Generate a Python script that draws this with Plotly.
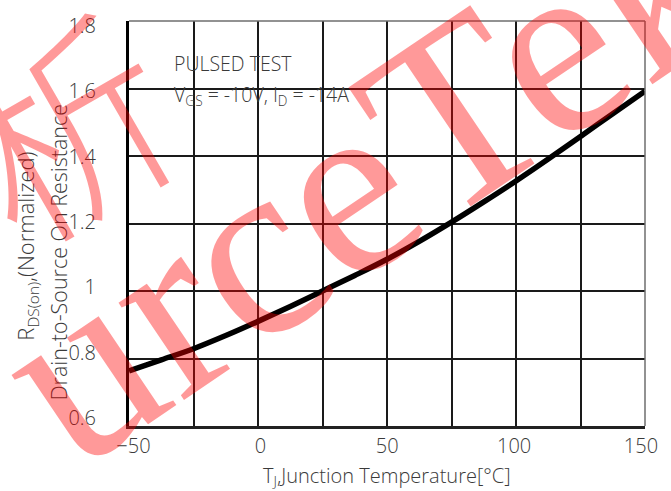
import plotly.graph_objects as go

# Data
temperature = [-50, -37.5, -25, -12.5, 0, 12.5, 25, 37.5, 50, 62.5, 75, 87.5, 100, 112.5, 125, 137.5, 150]
rds_norm = [0.763, 0.796, 0.829, 0.868, 0.910, 0.954, 1.000, 1.046, 1.094, 1.147, 1.204, 1.264, 1.326, 1.391, 1.458, 1.525, 1.592]
x_ticks = [-50, 0, 50, 100, 150]
y_ticks = [0.6, 0.8, 1.0, 1.2, 1.4, 1.6, 1.8]
y_ticktext = ["0.6", "0.8", "1", "1.2", "1.4", "1.6", "1.8"]

W, H = 671, 491
L, R, T, B = 129, 26, 15, 65
FONT = "Open Sans"
TXT = "#3a3a3a"
FW = 300

def f(size=19, color=TXT, **kw):
    return dict(family=FONT, size=size, color=color, weight=FW, **kw)

fig = go.Figure()
fig.add_trace(go.Scatter(
    x=temperature, y=rds_norm, mode="lines",
    line=dict(color="black", width=5.5, shape="spline", smoothing=1.0),
    hoverinfo="skip", showlegend=False,
))
# dummy trace for the label axes
fig.add_trace(go.Scatter(x=[None], y=[None], xaxis="x2", yaxis="y2",
                         mode="lines", showlegend=False, hoverinfo="skip"))

grid_col = "#1a1a1a"
fig.update_layout(
    width=W, height=H,
    margin=dict(l=L, r=R, t=T, b=B, pad=0),
    paper_bgcolor="white", plot_bgcolor="white",
    font=f(),
    xaxis=dict(range=[-50, 150], dtick=25, tick0=-50, showticklabels=False,
               showgrid=True, gridcolor=grid_col, gridwidth=1.5,
               zeroline=False, showline=True, linecolor="#222", linewidth=2.5,
               ticks=""),
    yaxis=dict(range=[0.6, 1.8], dtick=0.2, tick0=0.6, showticklabels=False,
               showgrid=True, gridcolor=grid_col, gridwidth=1.5,
               zeroline=False, showline=True, linecolor="black", linewidth=2.5,
               ticks=""),
    xaxis2=dict(overlaying="x", anchor="y", side="bottom",
                range=[-51.77, 151.58], tickvals=x_ticks,
                showgrid=False, zeroline=False, showline=False, ticks="",
                ticklabelstandoff=6, tickfont=f(20)),
    yaxis2=dict(overlaying="y", anchor="x", side="left",
                range=[0.5759, 1.8151], tickvals=y_ticks, ticktext=y_ticktext,
                showgrid=False, zeroline=False, showline=False, ticks="",
                ticklabelstandoff=32, tickfont=f(20)),
)

def px2paper(px, py):
    return (px - L) / (W - L - R), (H - B - py) / (H - T - B)

shapes = []
# gray frame top/right
shapes.append(dict(type="line", xref="paper", yref="paper", x0=0, x1=1, y0=1, y1=1,
                   line=dict(color="#6e6e6e", width=1.5), layer="above"))
shapes.append(dict(type="line", xref="paper", yref="paper", x0=1, x1=1, y0=0, y1=1,
                   line=dict(color="#6e6e6e", width=1.5), layer="above"))
# white box behind the test-condition text
bx0, by0 = px2paper(154, 117)
bx1, by1 = px2paper(432, 32)
shapes.append(dict(type="rect", xref="paper", yref="paper", x0=bx0, x1=bx1, y0=by0, y1=by1,
                   fillcolor="white", line=dict(width=0), layer="between"))
fig.update_layout(shapes=shapes)

ann = []
ax, ay = px2paper(172, 58)
ann.append(dict(xref="paper", yref="paper", x=ax, y=ay, xanchor="left", yanchor="middle",
                text="PULSED TEST", showarrow=False, font=f(19.5)))
ax, ay = px2paper(172, 91)
ann.append(dict(xref="paper", yref="paper", x=ax, y=ay, xanchor="left", yanchor="middle",
                text="V<sub>GS</sub> = -10V, I<sub>D</sub> = -14A", showarrow=False,
                font=f(19.5)))
# axis titles
ax, ay = px2paper(387, 477)
ann.append(dict(xref="paper", yref="paper", x=ax, y=ay, xanchor="center", yanchor="middle",
                text="T<sub>J</sub>,Junction Temperature[°C]", showarrow=False,
                font=f(20)))
ax, ay = px2paper(27, 244)
ann.append(dict(xref="paper", yref="paper", x=ax, y=ay, xanchor="center", yanchor="middle",
                text="R<sub>DS(on)</sub>,(Normalized)", showarrow=False, textangle=-90,
                font=f(22)))
ax, ay = px2paper(59, 250)
ann.append(dict(xref="paper", yref="paper", x=ax, y=ay, xanchor="center", yanchor="middle",
                text="Drain-to-Source On Resistance", showarrow=False, textangle=-90,
                font=f(21.5)))
# watermark
WM = "rgba(255,0,0,0.4)"
ax, ay = px2paper(365, 170)
ann.append(dict(xref="paper", yref="paper", x=ax, y=ay, xanchor="center", yanchor="middle",
                text="urceTek", showarrow=False, textangle=-34,
                font=dict(size=255, color=WM, family="Liberation Serif")))
ax, ay = px2paper(62, 115)
ann.append(dict(xref="paper", yref="paper", x=ax, y=ay, xanchor="center", yanchor="middle",
                text="析", showarrow=False, textangle=-30,
                font=dict(size=210, color=WM, family="Noto Sans CJK SC")))
fig.update_layout(annotations=ann)

fig.write_html("out.html", post_script="document.body.style.margin='0';",
               config={"displayModeBar": False})
